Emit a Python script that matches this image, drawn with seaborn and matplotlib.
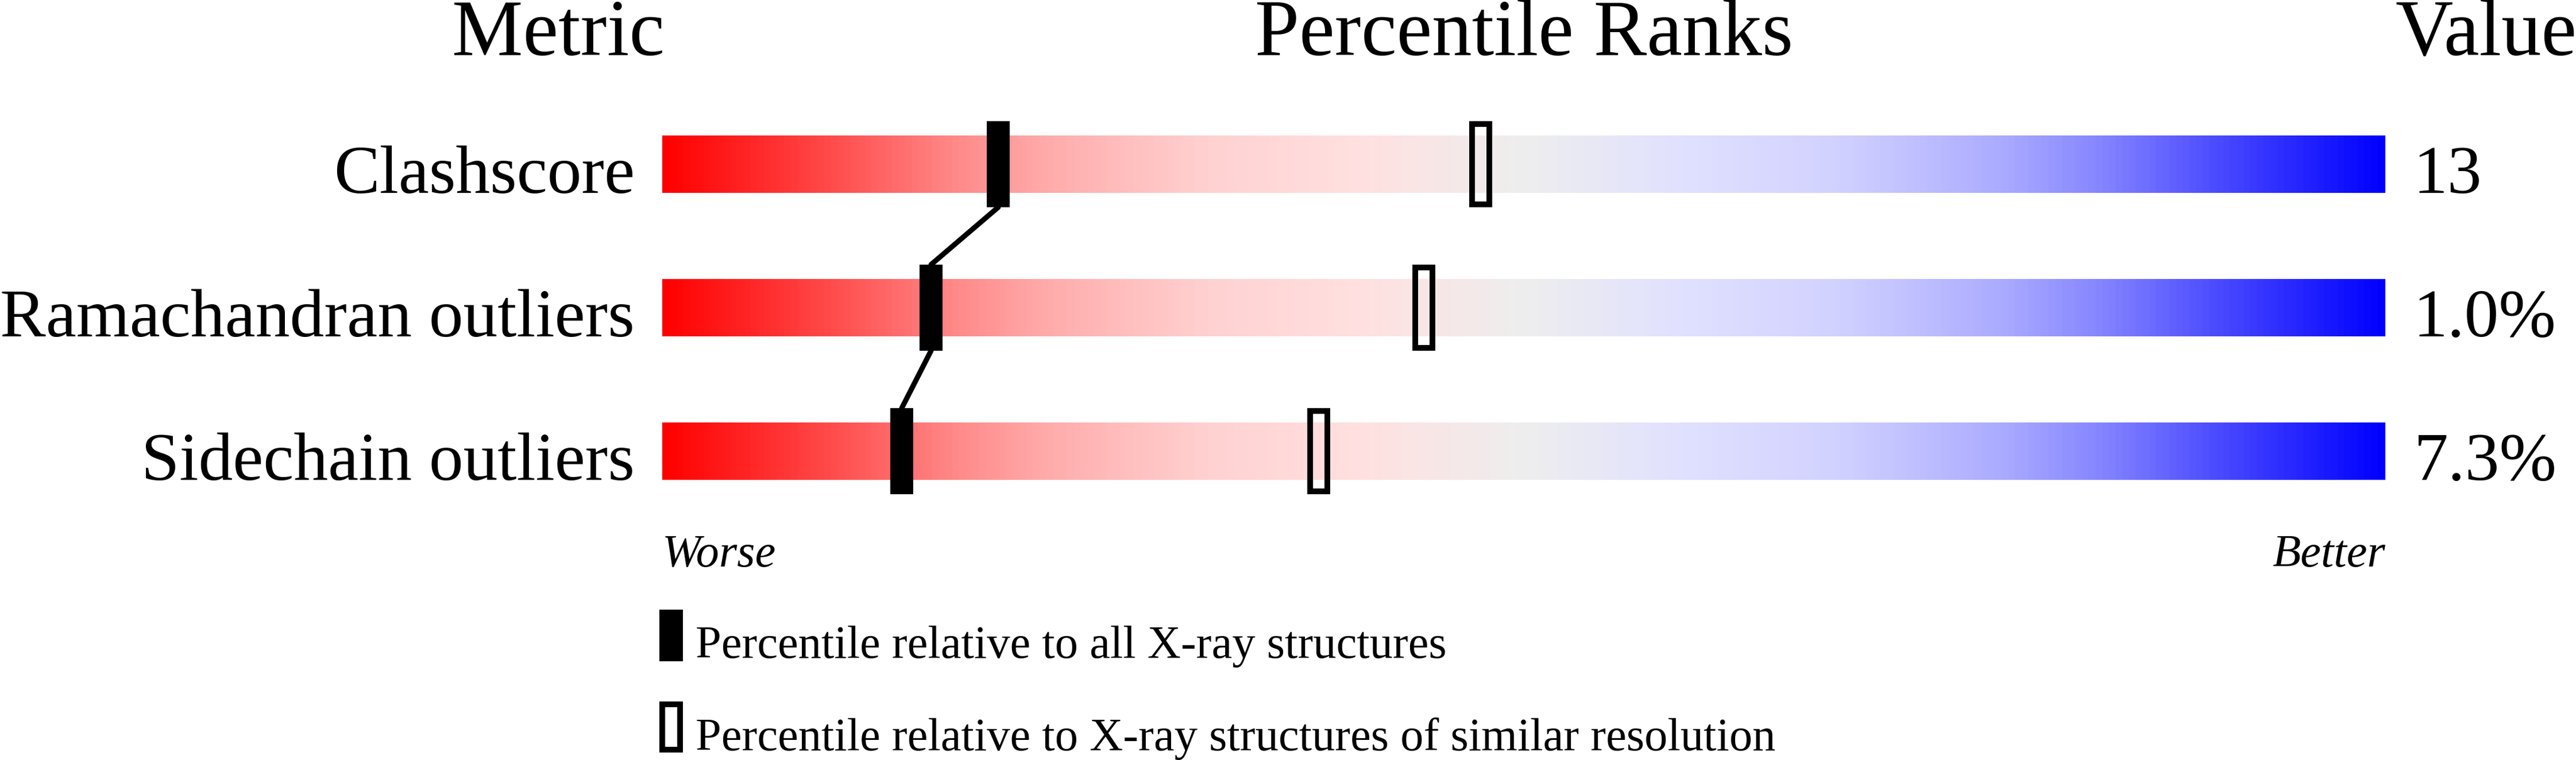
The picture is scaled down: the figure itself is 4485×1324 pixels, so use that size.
import numpy as np
import pandas as pd
import matplotlib
matplotlib.use("Agg")
import matplotlib.pyplot as plt
from matplotlib.colors import LinearSegmentedColormap
from matplotlib.patches import Rectangle
import seaborn as sns

# ---------------- data ----------------
metrics = ["Clashscore", "Ramachandran outliers", "Sidechain outliers"]
values = ["13", "1.0%", "7.3%"]
pct_all = [19.5, 15.6, 13.9]        # percentile relative to all X-ray structures
pct_similar = [47.5, 44.2, 38.1]    # percentile relative to similar resolution
header_labels = ["Metric", "Percentile Ranks", "Value"]
scale_labels = ["Worse", "Better"]
legend_labels = ["Percentile relative to all X-ray structures",
                 "Percentile relative to X-ray structures of similar resolution"]

# ---------------- style ----------------
sns.set_theme(style="white")
plt.rcParams["font.family"] = ["Liberation Serif", "DejaVu Serif"]

W, H, DPI = 4485, 1324, 100
fig = plt.figure(figsize=(W / DPI, H / DPI), dpi=DPI)
ax = fig.add_axes([0, 0, 1, 1])
ax.set_axis_off()

# pixel geometry -> data coordinates
BAR_L, BAR_R = 1153, 4153
PX_PER_PCT = (BAR_R - BAR_L) / 100.0
ROW0, ROW_STEP = 286, 250


def xd(px):
    return (px - BAR_L) / PX_PER_PCT


def yd(py):
    return (py - ROW0) / ROW_STEP


BAR_H = 100 / ROW_STEP
MARK_H = 150 / ROW_STEP
MARK_W = 40 / PX_PER_PCT
EDGE_PX = 10
EDGE_PT = EDGE_PX * 72 / DPI


def rgb(r, g, b):
    return (r / 255, g / 255, b / 255)


red_side = [(0.00, 0), (0.09, 70), (0.166, 135), (0.22, 170), (0.28, 195),
            (0.32, 210), (0.41, 225)]
stops = [(p, rgb(255, v, v)) for p, v in red_side]
stops.append((0.50, rgb(238, 238, 238)))
stops += [(1 - p, rgb(v, v, 255)) for p, v in reversed(red_side)]
cmap = LinearSegmentedColormap.from_list("redblue", stops)
grad = np.linspace(0, 1, 1000).reshape(1, -1)

rows = np.arange(len(metrics))
for r in rows:
    ax.imshow(grad, cmap=cmap, aspect="auto", interpolation="bilinear",
              extent=[0, 100, r + BAR_H / 2, r - BAR_H / 2], zorder=1)

# connecting line between "all" markers (bottom of one to top of next)
cx, cy = [], []
for i in range(len(metrics) - 1):
    cx += [pct_all[i], pct_all[i + 1]]
    cy += [rows[i] + MARK_H / 2, rows[i + 1] - MARK_H / 2]
conn = pd.DataFrame({"x": cx, "y": cy})
sns.lineplot(data=conn, x="x", y="y", sort=False, estimator=None, ax=ax,
             color="black", linewidth=6.5, zorder=2, legend=False)
ax.set_xlim(xd(0), xd(W))
ax.set_ylim(yd(H), yd(0))
ax.set_axis_off()

# markers
ew = EDGE_PX / PX_PER_PCT
eh = EDGE_PX / ROW_STEP
for r, p_all, p_sim in zip(rows, pct_all, pct_similar):
    ax.add_patch(Rectangle((p_all - MARK_W / 2, r - MARK_H / 2), MARK_W, MARK_H,
                           facecolor="black", edgecolor="none", zorder=3))
    ax.add_patch(Rectangle((p_sim - MARK_W / 2 + ew / 2, r - MARK_H / 2 + eh / 2),
                           MARK_W - ew, MARK_H - eh,
                           facecolor="none", edgecolor="black",
                           linewidth=EDGE_PT, zorder=3))

# text sizes (pt)
FS_HEAD = 100
FS_ROW = 86
FS_SMALL = 58

# headers
ax.text(xd(1157), yd(96), header_labels[0], ha="right", va="baseline",
        fontsize=FS_HEAD, color="black")
ax.text(xd((BAR_L + BAR_R) / 2), yd(96), header_labels[1], ha="center",
        va="baseline", fontsize=FS_HEAD, color="black")
ax.text(xd(4487), yd(96), header_labels[2], ha="right", va="baseline",
        fontsize=FS_HEAD, color="black")

# row labels and values
for r, name, val in zip(rows, metrics, values):
    ax.text(xd(1105), r + BAR_H / 2, name, ha="right", va="baseline",
            fontsize=FS_ROW, color="black")
    ax.text(xd(4202), r + BAR_H / 2, val, ha="left", va="baseline",
            fontsize=FS_ROW, color="black")

# worse / better
ax.text(xd(1153), yd(987), scale_labels[0], ha="left", va="baseline",
        fontsize=FS_SMALL, style="italic", color="black")
ax.text(xd(4153), yd(987), scale_labels[1], ha="right", va="baseline",
        fontsize=FS_SMALL, style="italic", color="black")

# legend
LG_X0, LG_X1 = 1148, 1189
ax.add_patch(Rectangle((xd(LG_X0), yd(1062)), xd(LG_X1) - xd(LG_X0),
                       yd(1152) - yd(1062), facecolor="black",
                       edgecolor="none", zorder=3))
ax.add_patch(Rectangle((xd(LG_X0) + ew / 2, yd(1222) + eh / 2),
                       xd(LG_X1) - xd(LG_X0) - ew, yd(1311) - yd(1222) - eh,
                       facecolor="none", edgecolor="black",
                       linewidth=EDGE_PT, zorder=3))
ax.text(xd(1211), yd(1146), legend_labels[0], ha="left", va="baseline",
        fontsize=FS_SMALL, color="black")
ax.text(xd(1211), yd(1307), legend_labels[1], ha="left", va="baseline",
        fontsize=FS_SMALL, color="black")

fig.savefig("out.png", dpi=DPI, facecolor="white")
